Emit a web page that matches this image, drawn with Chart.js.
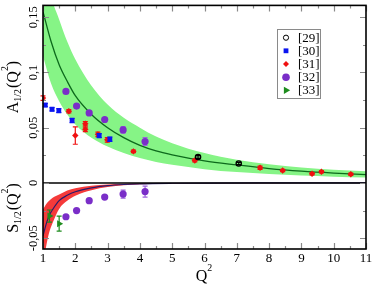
<!DOCTYPE html>
<html><head><meta charset="utf-8">
<script src="https://cdn.jsdelivr.net/npm/chart.js@4.4.0/dist/chart.umd.min.js"></script>
<style>html,body{margin:0;padding:0;background:#fff;overflow:hidden}canvas{display:block}</style>
</head><body><canvas id="c" width="374" height="285"></canvas>
<script>
// ---------- data ----------
const xTicks = [1,2,3,4,5,6,7,8,9,10,11];
const xTickLabels = ['1','2','3','4','5','6','7','8','9','10','11'];
const yTicks = [-0.05,0,0.05,0.1,0.15];
const yTickLabels = ['-0,05','0','0,05','0,1','0,15'];
const legendLabels = ['[29]','[30]','[31]','[32]','[33]'];

// A_1/2 curve and band
const aQ2    = [1, 1.25, 1.5, 1.75, 2, 2.5, 3, 3.5, 4, 4.5, 5, 6, 7, 8, 9, 10, 11];
const aMid   = [0.155,0.128,0.107,0.092,0.079,0.062,0.050,0.041,0.034,0.029,0.0255,0.020,0.0163,0.0130,0.0106,0.0089,0.0076];
const aUpper = [0.215,0.170,0.148,0.128,0.112,0.088,0.071,0.059,0.050,0.042,0.036,0.027,0.021,0.017,0.014,0.012,0.0105];
const aLower = [0.115,0.090,0.074,0.062,0.053,0.041,0.033,0.027,0.0225,0.019,0.0165,0.0125,0.0098,0.0080,0.0067,0.0057,0.0050];

// S_1/2 curve and band
const sQ2    = [1, 1.1, 1.2, 1.3, 1.5, 1.75, 2, 2.5, 3, 3.5, 4, 5, 6, 8, 11];
const sMid   = [-0.048,-0.037,-0.029,-0.024,-0.016,-0.0112,-0.0080,-0.0045,-0.0025,-0.0014,-0.0008,-0.0003,-0.0001,0,0];
const sUpper = [-0.024,-0.019,-0.016,-0.0135,-0.0105,-0.0068,-0.0048,-0.0026,-0.0014,-0.0008,-0.0004,-0.0001,0,0,0];
const sLower = [-0.075,-0.057,-0.044,-0.036,-0.0235,-0.0162,-0.0116,-0.0066,-0.0037,-0.0022,-0.0013,-0.0006,-0.0003,-0.0002,-0.0001];

// [29]
const r29Q2  = [5.8, 7.06];
const r29Val = [0.0235, 0.0176];
const r29Err = [0.0012, 0.0010];
// [30]
const r30Q2  = [1.07, 1.28, 1.49, 1.90, 2.74, 3.07];
const r30Val = [0.0705, 0.0667, 0.0655, 0.0565, 0.0429, 0.0396];
const r30Err = [0.0015, 0.0015, 0.0018, 0.0020, 0.0018, 0.0020];
// [31]
const r31Q2  = [1.0, 1.80, 2.31, 2.31, 2.0, 2.7, 2.99, 3.8, 5.7, 7.72, 8.42, 9.33, 9.62, 10.53];
const r31Val = [0.0768, 0.0649, 0.0536, 0.0485, 0.0429, 0.0440, 0.0390, 0.0286, 0.0203, 0.0137, 0.0113, 0.0083, 0.0101, 0.0078];
const r31Err = [0.0020, 0.0015, 0.0020, 0.0020, 0.0079, 0.0020, 0.0020, 0.0012, 0.0012, 0.0015, 0.0010, 0.0010, 0.0010, 0.0010];
// [32] A and S
const r32Q2   = [1.71, 2.04, 2.43, 2.91, 3.48, 4.16];
const r32AVal = [0.0828, 0.0696, 0.0634, 0.0574, 0.0480, 0.0375];
const r32AErr = [0.0015, 0.0015, 0.0015, 0.0018, 0.0030, 0.0036];
const r32SVal = [-0.0306, -0.0250, -0.0161, -0.0128, -0.0101, -0.0078];
const r32SErr = [0.0010, 0.0010, 0.0010, 0.0010, 0.0036, 0.0050];
// [33]
const r33Q2  = [1.2, 1.5];
const r33Val = [-0.030, -0.0369];
const r33Err = [0.0055, 0.0068];

// ---------- styles ----------
const C = {
  band: '#86f486', aLine: '#0d6a1c', sBand: '#f53a3a', sLine: '#2a1a6a',
  c29: '#000000', c30: '#0a14f0', c31: '#f01010', c32: '#7a2ec8', c32e: '#9c62dc', c33: '#1e8c1e'
};
const SERIF = '"Liberation Serif","DejaVu Serif",serif';

function pts(xs, ys){ return xs.map((x,i)=>({x:x, y:ys[i]})); }

const datasets = [
  // bands (drawn first)
  {label:'aUp', data:pts(aQ2,aUpper), borderWidth:0, pointRadius:0, fill:false, cubicInterpolationMode:'monotone', order:20},
  {label:'aLo', data:pts(aQ2,aLower), borderWidth:0, pointRadius:0, fill:0, backgroundColor:C.band, cubicInterpolationMode:'monotone', order:20},
  {label:'sUp', data:pts(sQ2,sUpper), borderWidth:0, pointRadius:0, fill:false, cubicInterpolationMode:'monotone', order:19},
  {label:'sLo', data:pts(sQ2,sLower), borderWidth:0, pointRadius:0, fill:2, backgroundColor:C.sBand, cubicInterpolationMode:'monotone', order:19},
  // curves
  {label:'aMid', data:pts(aQ2,aMid), borderColor:C.aLine, borderWidth:1.3, pointRadius:0, fill:false, cubicInterpolationMode:'monotone', order:10},
  {label:'sMid', data:pts(sQ2,sMid), borderColor:C.sLine, borderWidth:1.2, pointRadius:0, fill:false, cubicInterpolationMode:'monotone', order:10},
  // points
  {label:'[29]', data:pts(r29Q2,r29Val), errs:r29Err, errColor:C.c29, showLine:false, pointStyle:'circle', pointRadius:2.6, borderWidth:1.4, borderColor:C.c29, backgroundColor:'rgba(0,0,0,0)', order:1},
  {label:'[30]', data:pts(r30Q2,r30Val), errs:r30Err, errColor:C.c30, showLine:false, pointStyle:'rect', pointRadius:3.4, borderWidth:0, backgroundColor:C.c30, order:1},
  {label:'[31]', data:pts(r31Q2,r31Val), errs:r31Err, errColor:C.c31, showLine:false, pointStyle:'rectRot', pointRadius:3.2, borderWidth:0, backgroundColor:C.c31, order:1},
  {label:'[32]', data:pts(r32Q2,r32AVal), errs:r32AErr, errColor:C.c32e, showLine:false, pointStyle:'circle', pointRadius:3.6, borderWidth:0, backgroundColor:C.c32, order:1},
  {label:'[32]S', data:pts(r32Q2,r32SVal), errs:r32SErr, errColor:C.c32e, showLine:false, pointStyle:'circle', pointRadius:3.6, borderWidth:0, backgroundColor:C.c32, order:1},
  {label:'[33]', data:pts(r33Q2,r33Val), errs:r33Err, errColor:C.c33, showLine:false, pointStyle:'triangle', rotation:90, pointRadius:4, borderWidth:0, backgroundColor:C.c33, order:1}
];

const legendItems = [
  {style:'circle', r:2.6, fill:'rgba(0,0,0,0)', stroke:C.c29, bw:1.4, rot:0},
  {style:'rect', r:3.4, fill:C.c30, stroke:C.c30, bw:0, rot:0},
  {style:'rectRot', r:3.0, fill:C.c31, stroke:C.c31, bw:0, rot:0},
  {style:'circle', r:3.8, fill:C.c32, stroke:C.c32, bw:0, rot:0},
  {style:'triangle', r:4.2, fill:C.c33, stroke:C.c33, bw:0, rot:90}
];

// error bars, drawn under each dataset's markers
const errPlugin = {
  id:'err',
  beforeDatasetDraw(chart, args){
    const ds = chart.data.datasets[args.index];
    if (!ds.errs) return;
    const ctx = chart.ctx, xs = chart.scales.x, ys = chart.scales.y;
    ctx.save();
    ctx.strokeStyle = ds.errColor; ctx.lineWidth = 1.2;
    ds.data.forEach((p,i)=>{
      const e = ds.errs[i];
      const px = xs.getPixelForValue(p.x);
      const y1 = ys.getPixelForValue(p.y + e), y2 = ys.getPixelForValue(p.y - e);
      ctx.beginPath();
      ctx.moveTo(px, y1); ctx.lineTo(px, y2);
      ctx.moveTo(px-2.5, y1); ctx.lineTo(px+2.5, y1);
      ctx.moveTo(px-2.5, y2); ctx.lineTo(px+2.5, y2);
      ctx.stroke();
    });
    ctx.restore();
  }
};

function drawRich(ctx, parts, cx, cy, size, rotate){
  ctx.save();
  ctx.translate(cx, cy);
  if (rotate) ctx.rotate(-Math.PI/2);
  let total = 0;
  parts.forEach(p=>{ ctx.font = (size*p.s)+'px '+SERIF; p.w = ctx.measureText(p.t).width; total += p.w + (p.gap||0); });
  let x = -total/2;
  ctx.textBaseline = 'middle'; ctx.textAlign = 'left'; ctx.fillStyle = '#000';
  parts.forEach(p=>{ ctx.font = (size*p.s)+'px '+SERIF; ctx.fillText(p.t, x, p.dy*size); x += p.w + (p.gap||0); });
  ctx.restore();
}

const decoPlugin = {
  id:'deco',
  afterDatasetsDraw(chart){
    const ctx = chart.ctx, a = chart.chartArea, xs = chart.scales.x, ys = chart.scales.y;
    // zero line
    ctx.save();
    ctx.strokeStyle = '#000'; ctx.lineWidth = 1.4;
    const y0 = ys.getPixelForValue(0);
    ctx.beginPath(); ctx.moveTo(a.left, y0); ctx.lineTo(a.right, y0); ctx.stroke();
    ctx.restore();
  },
  afterDraw(chart){
    const ctx = chart.ctx, a = chart.chartArea, xs = chart.scales.x, ys = chart.scales.y;
    ctx.save();
    // ticks (inward, all four sides)
    ctx.strokeStyle = '#8a8a8a'; ctx.lineWidth = 1.2;
    ctx.beginPath();
    for (let v = xs.min; v <= xs.max + 1e-9; v += 0.5) {
      const px = Math.round(xs.getPixelForValue(v)) + 0.5;
      const len = Math.abs(v - Math.round(v)) < 1e-9 ? 6 : 3;
      ctx.moveTo(px, a.bottom); ctx.lineTo(px, a.bottom - len);
      ctx.moveTo(px, a.top); ctx.lineTo(px, a.top + len);
    }
    for (let k = -2; k <= 6; k++) {
      const v = k * 0.025;
      if (v < ys.min || v > ys.max) continue;
      const py = Math.round(ys.getPixelForValue(v)) + 0.5;
      const len = (k % 2 === 0) ? 6 : 3;
      ctx.moveTo(a.left, py); ctx.lineTo(a.left + len, py);
      ctx.moveTo(a.right, py); ctx.lineTo(a.right - len, py);
    }
    ctx.stroke();
    // frame
    ctx.strokeStyle = '#000'; ctx.lineWidth = 1.6;
    ctx.strokeRect(a.left, a.top, a.right - a.left, a.bottom - a.top);
    // x tick labels
    ctx.fillStyle = '#000'; ctx.font = '13px '+SERIF;
    ctx.textAlign = 'center'; ctx.textBaseline = 'middle';
    xTicks.forEach((v,i)=>{ ctx.fillText(xTickLabels[i], xs.getPixelForValue(v), 259); });
    // y tick labels (rotated)
    yTicks.forEach((v,i)=>{
      ctx.save();
      ctx.translate(34, ys.getPixelForValue(v));
      ctx.rotate(-Math.PI/2);
      ctx.font = '12.5px '+SERIF; ctx.textAlign = 'center'; ctx.textBaseline = 'middle';
      ctx.fillText(yTickLabels[i], 0, 0);
      ctx.restore();
    });
    ctx.restore();
    // axis titles
    drawRich(ctx, [
      {t:'A', s:1, dy:0}, {t:'1/2', s:0.62, dy:0.3, gap:1}, {t:'(Q', s:1, dy:0}, {t:'2', s:0.62, dy:-0.55}, {t:')', s:1, dy:0}
    ], 14, 87, 16, true);
    drawRich(ctx, [
      {t:'S', s:1, dy:0}, {t:'1/2', s:0.62, dy:0.3, gap:1}, {t:'(Q', s:1, dy:0}, {t:'2', s:0.62, dy:-0.55}, {t:')', s:1, dy:0}
    ], 14, 208, 16, true);
    drawRich(ctx, [{t:'Q', s:1, dy:0}, {t:'2', s:0.62, dy:-0.55}], 204, 277, 16, false);
    // legend
    ctx.save();
    ctx.strokeStyle = '#8a8a8a'; ctx.lineWidth = 1;
    ctx.strokeRect(277.5, 29.5, 43, 69);
    const ly = [37.7, 50.8, 63.9, 77.2, 90.3];
    legendItems.forEach((it,i)=>{
      ctx.fillStyle = it.fill; ctx.strokeStyle = it.stroke;
      Chart.helpers.drawPoint(ctx, {pointStyle:it.style, radius:it.r, rotation:it.rot, borderWidth:it.bw}, 286, ly[i]);
      ctx.fillStyle = '#000'; ctx.font = '13px '+SERIF; ctx.textAlign = 'left'; ctx.textBaseline = 'middle';
      ctx.fillText(legendLabels[i], 298, ly[i] + 0.5);
    });
    ctx.restore();
  }
};

new Chart(document.getElementById('c'), {
  type:'line',
  data:{datasets:datasets},
  options:{
    responsive:false, animation:false, devicePixelRatio:1,
    layout:{padding:{top:2, right:8, left:0, bottom:0}},
    scales:{
      x:{type:'linear', min:1, max:11, ticks:{display:false}, grid:{display:false}, border:{display:false},
         afterFit(s){ s.height = 36; }},
      y:{type:'linear', min:-0.0598, max:0.1607, ticks:{display:false}, grid:{display:false}, border:{display:false},
         afterFit(s){ s.width = 43; }}
    },
    plugins:{legend:{display:false}, tooltip:{enabled:false}, filler:{propagate:false}}
  },
  plugins:[errPlugin, decoPlugin]
});
</script>
</body></html>
